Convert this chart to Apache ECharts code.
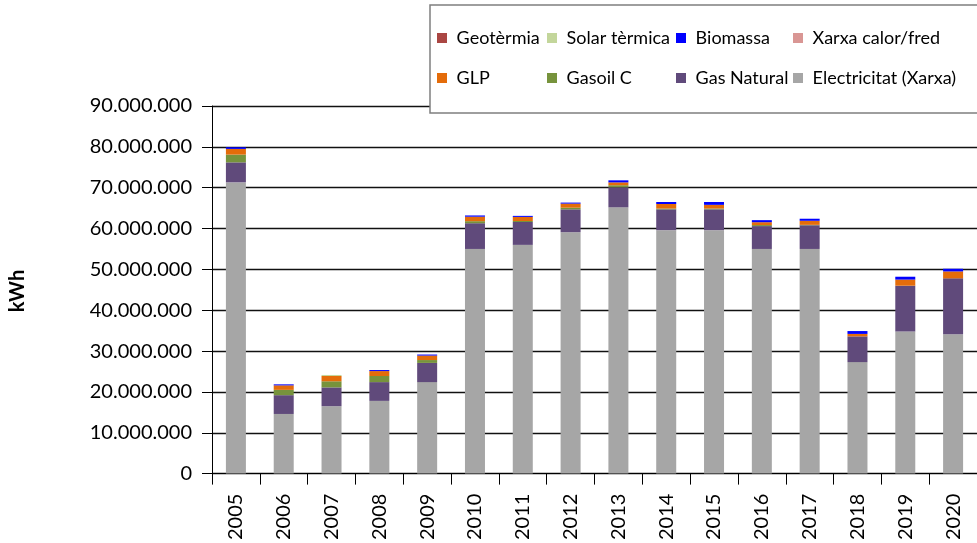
<!DOCTYPE html>
<html>
<head>
<meta charset="utf-8">
<script src="https://cdn.jsdelivr.net/npm/echarts@6/dist/echarts.min.js"></script>
<style>html,body{margin:0;padding:0;background:#fff;}#c{width:977px;height:543px;}</style>
</head>
<body>
<div id="c"></div>
<script>
const years = ['2005','2006','2007','2008','2009','2010','2011','2012','2013','2014','2015','2016','2017','2018','2019','2020'];
const electricitat = [71300000,14600000,16500000,17800000,22400000,55000000,56000000,59100000,65200000,59600000,59600000,55000000,55000000,27300000,34800000,34100000];
const gasNatural   = [4900000,4600000,4600000,4600000,4700000,6300000,5600000,5600000,4900000,5100000,5100000,5600000,5800000,6300000,11200000,13700000];
const gasoilC      = [1900000,1300000,1500000,1500000,700000,500000,250000,400000,500000,200000,200000,250000,100000,0,0,0];
const glp          = [1400000,1100000,1300000,1200000,1100000,1100000,1000000,1000000,700000,1100000,900000,700000,1000000,600000,1500000,1700000];
const xarxa        = [0,0,0,0,0,0,0,0,0,0,0,0,0,0,0,0];
const biomassa     = [400000,250000,0,250000,250000,300000,250000,250000,500000,500000,700000,500000,500000,700000,700000,650000];
const solar        = [0,0,250000,0,0,0,0,0,0,0,0,0,0,0,0,0];
const geotermia    = [0,0,0,0,0,0,0,0,0,0,0,0,0,0,0,0];
const yTicks = [0,10000000,20000000,30000000,40000000,50000000,60000000,70000000,80000000,90000000];

const FONT = 'Lato';
const fmt = v => String(v).replace(/\B(?=(\d{3})+(?!\d))/g, '.');

const seriesDefs = [
  ['Electricitat (Xarxa)', electricitat, '#a6a6a6'],
  ['Gas Natural', gasNatural, '#604a7b'],
  ['Gasoil C', gasoilC, '#77933c'],
  ['GLP', glp, '#e46c0a'],
  ['Xarxa calor/fred', xarxa, '#d99694'],
  ['Biomassa', biomassa, '#0000ff'],
  ['Solar tèrmica', solar, '#c3d69b'],
  ['Geotèrmia', geotermia, '#aa4643']
];

const legendCols = [
  ['Geotèrmia','GLP'],
  ['Solar tèrmica','Gasoil C'],
  ['Biomassa','Gas Natural'],
  ['Xarxa calor/fred','Electricitat (Xarxa)']
];
const legendLeft = [437, 547, 676, 793];

const chart = echarts.init(document.getElementById('c'), null, {renderer:'canvas'});
chart.setOption({
  animation: false,
  backgroundColor: '#fff',
  textStyle: {fontFamily: FONT},
  grid: {left: 212, top: 106, right: -10, bottom: 67, containLabel: false},
  legend: legendCols.map((col, i) => ({
    data: col,
    orient: 'vertical',
    left: legendLeft[i],
    top: 28,
    padding: 0,
    itemGap: 20,
    itemWidth: 10,
    itemHeight: 10,
    icon: 'rect',
    z: 60,
    selectedMode: false,
    formatter: n => ' ' + n,
    textStyle: {fontFamily: FONT, fontSize: 18, color: '#000', lineHeight: 20}
  })),
  graphic: [
    {type:'rect', z: 50, shape:{x:430, y:5, width:600, height:108}, style:{fill:'#fff', stroke:'#7f7f7f', lineWidth:1.5}},
    {type:'text', z: 50, x: 18, y: 291, rotation: Math.PI/2, style:{text:'kWh', font:'bold 20px ' + FONT, fill:'#000', align:'center', verticalAlign:'middle'}}
  ],
  xAxis: {
    type: 'category',
    data: years,
    boundaryGap: true,
    axisLine: {lineStyle: {color: '#000', width: 1}},
    axisTick: {show: true, length: 11, lineStyle: {color: '#000'}},
    axisLabel: {rotate: 90, margin: 20, fontFamily: FONT, fontSize: 20, color: '#000'}
  },
  yAxis: {
    type: 'value',
    min: 0, max: 90000000, interval: 10000000,
    axisLine: {show: true, lineStyle: {color: '#000', width: 1}},
    axisTick: {show: true, length: 10, lineStyle: {color: '#000'}},
    axisLabel: {margin: 20, fontFamily: FONT, fontSize: 20, color: '#000', formatter: v => yTicks.indexOf(v) >= 0 ? fmt(v) : ''},
    splitLine: {show: true, lineStyle: {color: '#111', width: 1.3}}
  },
  series: seriesDefs.map(([name, data, color]) => ({
    name, type: 'bar', stack: 'total', data, barWidth: 20,
    itemStyle: {color}
  }))
});
</script>
</body>
</html>
